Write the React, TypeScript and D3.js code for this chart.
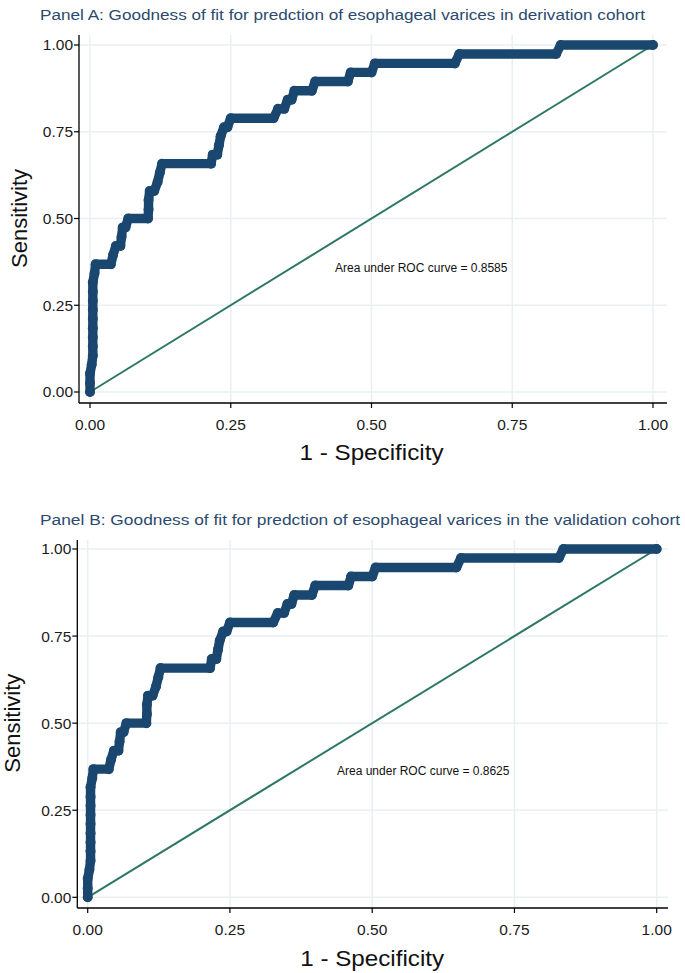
import React from "react";
import * as d3 from "d3";

// ROC vertices (1 - specificity, sensitivity)
const rocFpr = [
  0, 0, 0, 0.003, 0.005, 0.005, 0.005, 0.005, 0.005, 0.005, 0.005, 0.005, 0.005, 0.008,
  0.01, 0.037, 0.041, 0.046, 0.054, 0.056, 0.058, 0.063, 0.068, 0.103, 0.104, 0.104,
  0.106, 0.114, 0.12, 0.124, 0.128, 0.215, 0.218, 0.226, 0.229, 0.232, 0.238, 0.244,
  0.25, 0.326, 0.334, 0.345, 0.351, 0.358, 0.363, 0.394, 0.4, 0.458, 0.463, 0.5,
  0.506, 0.648, 0.656, 0.828, 0.836, 1,
];
const rocTpr = [
  0, 0.026, 0.053, 0.079, 0.105, 0.132, 0.158, 0.184, 0.211, 0.237, 0.263, 0.289, 0.316, 0.342,
  0.368, 0.368, 0.395, 0.421, 0.421, 0.447, 0.474, 0.474, 0.5, 0.5, 0.526, 0.553,
  0.579, 0.579, 0.605, 0.632, 0.658, 0.658, 0.684, 0.684, 0.711, 0.737, 0.763, 0.763,
  0.789, 0.789, 0.816, 0.816, 0.842, 0.842, 0.868, 0.868, 0.895, 0.895, 0.921, 0.921,
  0.947, 0.947, 0.974, 0.974, 1, 1,
];
const tickValues = [0, 0.25, 0.5, 0.75, 1];
const tickLabels = ["0.00", "0.25", "0.50", "0.75", "1.00"];
const panelTitles = [
  "Panel A: Goodness of fit for predction of esophageal varices in derivation cohort",
  "Panel B: Goodness of fit for predction of esophageal varices in the validation cohort",
];
const aucValues = ["0.8585", "0.8625"];

const FONT = "'Liberation Sans', Arial, Helvetica, sans-serif";
const NAVY = "#1a476f";
const REFLINE = "#2e7766";
const GRID = "#e8f0f2";

type Layout = {
  x0: number; x1: number; y0: number; y1: number;
  axisLeft: number; axisBottom: number; axisRight: number; axisTop: number;
  titleX: number; titleY: number; titleW: number; ylabX: number; xlabY: number;
  aucX: number; aucY: number;
};

const layouts: Layout[] = [
  { x0: 90, x1: 653, y0: 392, y1: 45, axisLeft: 79, axisBottom: 403, axisRight: 667, axisTop: 35,
    titleX: 40, titleY: 20, titleW: 605, ylabX: 27, xlabY: 460, aucX: 335, aucY: 272 },
  { x0: 87.7, x1: 656.7, y0: 897.3, y1: 549, axisLeft: 77.3, axisBottom: 908, axisRight: 668, axisTop: 540,
    titleX: 40, titleY: 525, titleW: 640, ylabX: 20, xlabY: 966, aucX: 337, aucY: 775 },
];

function Panel({ L, title, auc }: { L: Layout; title: string; auc: string }) {
  const x = d3.scaleLinear().domain([0, 1]).range([L.x0, L.x1]);
  const y = d3.scaleLinear().domain([0, 1]).range([L.y0, L.y1]);
  const pts = rocFpr.map((f, i) => [f, rocTpr[i]] as [number, number]);
  const line = d3.line<[number, number]>().x((d) => x(d[0])).y((d) => y(d[1]));
  const midY = (L.y0 + L.y1) / 2;
  const midX = (L.x0 + L.x1) / 2;
  return (
    <g>
      <text x={L.titleX} y={L.titleY} fontFamily={FONT} fontSize={15.5}
        textLength={L.titleW} lengthAdjust="spacingAndGlyphs" fill="#2b4a6e">{title}</text>
      {tickValues.map((t) => (
        <g key={"g" + t}>
          <line x1={L.axisLeft} x2={L.axisRight} y1={y(t)} y2={y(t)} stroke={GRID} strokeWidth={1.5} />
          <line x1={x(t)} x2={x(t)} y1={L.axisTop} y2={L.axisBottom} stroke={GRID} strokeWidth={1.5} />
        </g>
      ))}
      <line x1={x(0)} y1={y(0)} x2={x(1)} y2={y(1)} stroke={REFLINE} strokeWidth={2} />
      <path d={line(pts) || ""} fill="none" stroke={NAVY} strokeWidth={9.4}
        strokeLinecap="round" strokeLinejoin="round" />
      {pts.map((d, i) => (
        <circle key={i} cx={x(d[0])} cy={y(d[1])} r={5} fill={NAVY} />
      ))}
      <line x1={L.axisLeft} x2={L.axisLeft} y1={L.axisTop} y2={L.axisBottom} stroke="#000" strokeWidth={1.3} />
      <line x1={L.axisLeft} x2={L.axisRight} y1={L.axisBottom} y2={L.axisBottom} stroke="#000" strokeWidth={1.3} />
      {tickValues.map((t, i) => (
        <g key={"t" + t}>
          <line x1={L.axisLeft - 5} x2={L.axisLeft} y1={y(t)} y2={y(t)} stroke="#000" strokeWidth={1.2} />
          <text x={L.axisLeft - 6} y={y(t)} dy="0.35em" textAnchor="end" fontFamily={FONT}
            fontSize={15.5} fill="#1a1a1a">{tickLabels[i]}</text>
          <line x1={x(t)} x2={x(t)} y1={L.axisBottom} y2={L.axisBottom + 5} stroke="#000" strokeWidth={1.2} />
          <text x={x(t)} y={L.axisBottom + 27} textAnchor="middle" fontFamily={FONT}
            fontSize={15.5} fill="#1a1a1a">{tickLabels[i]}</text>
        </g>
      ))}
      <text x={midX} y={L.xlabY} textAnchor="middle" fontFamily={FONT} fontSize={22}
        textLength={144} lengthAdjust="spacingAndGlyphs" fill="#111">
        1 - Specificity
      </text>
      <text transform={`translate(${L.ylabX},${midY}) rotate(-90)`} textAnchor="middle"
        fontFamily={FONT} fontSize={22} fill="#111">Sensitivity</text>
      <text x={L.aucX} y={L.aucY} fontFamily={FONT} fontSize={12} fill="#111">
        {`Area under ROC curve = ${auc}`}
      </text>
    </g>
  );
}

export default function App() {
  return (
    <div style={{ position: "absolute", left: 0, top: 0 }}>
      <svg width={685} height={973} style={{ display: "block", background: "#fff" }}>
        <rect width={685} height={973} fill="#fff" />
        {layouts.map((L, i) => (
          <Panel key={i} L={L} title={panelTitles[i]} auc={aucValues[i]} />
        ))}
      </svg>
    </div>
  );
}
